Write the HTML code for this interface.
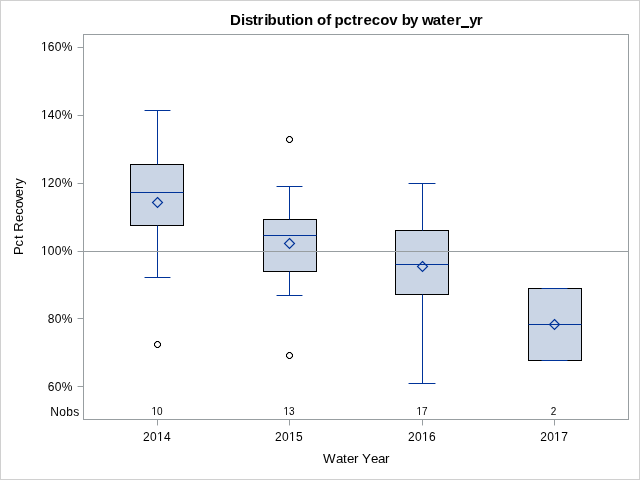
<!DOCTYPE html>
<html><head><meta charset="utf-8">
<style>
html,body{margin:0;padding:0;background:#fff;width:640px;height:480px;overflow:hidden}
svg{display:block;will-change:transform}
text{font-family:"Liberation Sans",sans-serif;fill:#000}
</style></head><body>
<svg width="640" height="480" viewBox="0 0 640 480">
<rect x="0" y="0" width="640" height="480" fill="#fff"/>
<g shape-rendering="crispEdges">
<path d="M0 0h640v480h-640z M1 1v478h638v-478z" fill="#d0d0d0" fill-rule="evenodd"/>
<rect x="83" y="34" width="546" height="1" fill="#989ea1"/>
<rect x="83" y="419" width="546" height="1" fill="#989ea1"/>
<rect x="83" y="34" width="1" height="386" fill="#989ea1"/>
<rect x="628" y="34" width="1" height="386" fill="#989ea1"/>
<rect x="78" y="47" width="5" height="1" fill="#989ea1"/>
<rect x="77" y="47" width="1" height="1" fill="#989ea1" fill-opacity="0.45"/>
<rect x="78" y="115" width="5" height="1" fill="#989ea1"/>
<rect x="77" y="115" width="1" height="1" fill="#989ea1" fill-opacity="0.45"/>
<rect x="78" y="183" width="5" height="1" fill="#989ea1"/>
<rect x="77" y="183" width="1" height="1" fill="#989ea1" fill-opacity="0.45"/>
<rect x="78" y="251" width="5" height="1" fill="#989ea1"/>
<rect x="77" y="251" width="1" height="1" fill="#989ea1" fill-opacity="0.45"/>
<rect x="78" y="318" width="5" height="1" fill="#989ea1"/>
<rect x="77" y="318" width="1" height="1" fill="#989ea1" fill-opacity="0.45"/>
<rect x="78" y="386" width="5" height="1" fill="#989ea1"/>
<rect x="77" y="386" width="1" height="1" fill="#989ea1" fill-opacity="0.45"/>
<rect x="157" y="420" width="1" height="5" fill="#989ea1"/>
<rect x="157" y="425" width="1" height="1" fill="#989ea1" fill-opacity="0.45"/>
<rect x="289" y="420" width="1" height="5" fill="#989ea1"/>
<rect x="289" y="425" width="1" height="1" fill="#989ea1" fill-opacity="0.45"/>
<rect x="422" y="420" width="1" height="5" fill="#989ea1"/>
<rect x="422" y="425" width="1" height="1" fill="#989ea1" fill-opacity="0.45"/>
<rect x="554" y="420" width="1" height="5" fill="#989ea1"/>
<rect x="554" y="425" width="1" height="1" fill="#989ea1" fill-opacity="0.45"/>
<rect x="157" y="110" width="1" height="54" fill="#003399"/>
<rect x="157" y="226" width="1" height="52" fill="#003399"/>
<rect x="130" y="164" width="54" height="62" fill="#000"/>
<rect x="131" y="165" width="52" height="60" fill="#cad5e5"/>
<rect x="145" y="110" width="25" height="1" fill="#003399"/>
<rect x="144" y="110" width="1" height="1" fill="#003399" fill-opacity="0.45"/>
<rect x="170" y="110" width="1" height="1" fill="#003399" fill-opacity="0.45"/>
<rect x="145" y="277" width="25" height="1" fill="#003399"/>
<rect x="144" y="277" width="1" height="1" fill="#003399" fill-opacity="0.45"/>
<rect x="170" y="277" width="1" height="1" fill="#003399" fill-opacity="0.45"/>
<rect x="131" y="192" width="52" height="1" fill="#003399"/>
<rect x="130" y="192" width="1" height="1" fill="#003399" fill-opacity="0.45"/>
<rect x="183" y="192" width="1" height="1" fill="#003399" fill-opacity="0.45"/>
<rect x="157" y="164" width="1" height="1" fill="#003399" fill-opacity="0.45"/>
<rect x="157" y="225" width="1" height="1" fill="#003399" fill-opacity="0.45"/>
<rect x="289" y="186" width="1" height="33" fill="#003399"/>
<rect x="289" y="272" width="1" height="24" fill="#003399"/>
<rect x="263" y="219" width="54" height="53" fill="#000"/>
<rect x="264" y="220" width="52" height="51" fill="#cad5e5"/>
<rect x="277" y="186" width="25" height="1" fill="#003399"/>
<rect x="276" y="186" width="1" height="1" fill="#003399" fill-opacity="0.45"/>
<rect x="302" y="186" width="1" height="1" fill="#003399" fill-opacity="0.45"/>
<rect x="277" y="295" width="25" height="1" fill="#003399"/>
<rect x="276" y="295" width="1" height="1" fill="#003399" fill-opacity="0.45"/>
<rect x="302" y="295" width="1" height="1" fill="#003399" fill-opacity="0.45"/>
<rect x="264" y="235" width="52" height="1" fill="#003399"/>
<rect x="263" y="235" width="1" height="1" fill="#003399" fill-opacity="0.45"/>
<rect x="316" y="235" width="1" height="1" fill="#003399" fill-opacity="0.45"/>
<rect x="289" y="219" width="1" height="1" fill="#003399" fill-opacity="0.45"/>
<rect x="289" y="271" width="1" height="1" fill="#003399" fill-opacity="0.45"/>
<rect x="422" y="183" width="1" height="47" fill="#003399"/>
<rect x="422" y="295" width="1" height="89" fill="#003399"/>
<rect x="395" y="230" width="54" height="65" fill="#000"/>
<rect x="396" y="231" width="52" height="63" fill="#cad5e5"/>
<rect x="409" y="183" width="26" height="1" fill="#003399"/>
<rect x="408" y="183" width="1" height="1" fill="#003399" fill-opacity="0.45"/>
<rect x="435" y="183" width="1" height="1" fill="#003399" fill-opacity="0.45"/>
<rect x="409" y="383" width="26" height="1" fill="#003399"/>
<rect x="408" y="383" width="1" height="1" fill="#003399" fill-opacity="0.45"/>
<rect x="435" y="383" width="1" height="1" fill="#003399" fill-opacity="0.45"/>
<rect x="396" y="264" width="52" height="1" fill="#003399"/>
<rect x="395" y="264" width="1" height="1" fill="#003399" fill-opacity="0.45"/>
<rect x="448" y="264" width="1" height="1" fill="#003399" fill-opacity="0.45"/>
<rect x="422" y="230" width="1" height="1" fill="#003399" fill-opacity="0.45"/>
<rect x="422" y="294" width="1" height="1" fill="#003399" fill-opacity="0.45"/>
<rect x="528" y="288" width="54" height="73" fill="#000"/>
<rect x="529" y="289" width="52" height="71" fill="#cad5e5"/>
<rect x="542" y="288" width="25" height="1" fill="#003399"/>
<rect x="541" y="288" width="1" height="1" fill="#003399" fill-opacity="0.45"/>
<rect x="567" y="288" width="1" height="1" fill="#003399" fill-opacity="0.45"/>
<rect x="542" y="360" width="25" height="1" fill="#003399"/>
<rect x="541" y="360" width="1" height="1" fill="#003399" fill-opacity="0.45"/>
<rect x="567" y="360" width="1" height="1" fill="#003399" fill-opacity="0.45"/>
<rect x="529" y="324" width="52" height="1" fill="#003399"/>
<rect x="528" y="324" width="1" height="1" fill="#003399" fill-opacity="0.45"/>
<rect x="581" y="324" width="1" height="1" fill="#003399" fill-opacity="0.45"/>
<rect x="84" y="251" width="544" height="1" fill="#989ea1"/>
<path d="M154 343h1v1h-1zM154 344h1v1h-1zM154 345h1v1h-1zM155 342h1v1h-1zM155 346h1v1h-1zM156 341h1v1h-1zM156 347h1v1h-1zM157 341h1v1h-1zM157 347h1v1h-1zM158 341h1v1h-1zM158 347h1v1h-1zM159 342h1v1h-1zM159 346h1v1h-1zM160 343h1v1h-1zM160 344h1v1h-1zM160 345h1v1h-1zM286 138h1v1h-1zM286 139h1v1h-1zM286 140h1v1h-1zM287 137h1v1h-1zM287 141h1v1h-1zM288 136h1v1h-1zM288 142h1v1h-1zM289 136h1v1h-1zM289 142h1v1h-1zM290 136h1v1h-1zM290 142h1v1h-1zM291 137h1v1h-1zM291 141h1v1h-1zM292 138h1v1h-1zM292 139h1v1h-1zM292 140h1v1h-1zM286 354h1v1h-1zM286 355h1v1h-1zM286 356h1v1h-1zM287 353h1v1h-1zM287 357h1v1h-1zM288 352h1v1h-1zM288 358h1v1h-1zM289 352h1v1h-1zM289 358h1v1h-1zM290 352h1v1h-1zM290 358h1v1h-1zM291 353h1v1h-1zM291 357h1v1h-1zM292 354h1v1h-1zM292 355h1v1h-1zM292 356h1v1h-1z" fill="#000"/>
<path d="M156 342h1v1h-1z M155 343h1v1h-1z M156 346h1v1h-1z M155 345h1v1h-1z M158 342h1v1h-1z M159 343h1v1h-1z M158 346h1v1h-1z M159 345h1v1h-1z M288 137h1v1h-1z M287 138h1v1h-1z M288 141h1v1h-1z M287 140h1v1h-1z M290 137h1v1h-1z M291 138h1v1h-1z M290 141h1v1h-1z M291 140h1v1h-1z M288 353h1v1h-1z M287 354h1v1h-1z M288 357h1v1h-1z M287 356h1v1h-1z M290 353h1v1h-1z M291 354h1v1h-1z M290 357h1v1h-1z M291 356h1v1h-1z " fill="#000" fill-opacity="0.3"/>
<path d="M155 341h1v1h-1z M154 342h1v1h-1z M155 347h1v1h-1z M154 346h1v1h-1z M159 341h1v1h-1z M160 342h1v1h-1z M159 347h1v1h-1z M160 346h1v1h-1z M287 136h1v1h-1z M286 137h1v1h-1z M287 142h1v1h-1z M286 141h1v1h-1z M291 136h1v1h-1z M292 137h1v1h-1z M291 142h1v1h-1z M292 141h1v1h-1z M287 352h1v1h-1z M286 353h1v1h-1z M287 358h1v1h-1z M286 357h1v1h-1z M291 352h1v1h-1z M292 353h1v1h-1z M291 358h1v1h-1z M292 357h1v1h-1z " fill="#000" fill-opacity="0.2"/>
</g>
<path d="M157.5 197.5l5 5l-5 5l-5 -5zM289.5 238.5l5 5l-5 5l-5 -5zM422.5 261.5l5 5l-5 5l-5 -5zM554.5 319.5l5 5l-5 5l-5 -5z" fill="none" stroke="#003399" stroke-width="1.15"/>

<text x="230.00 241.12 245.12 252.85 257.50 264.22 267.48 276.75 285.85 290.92 294.87 303.89 308.89 316.92 326.21 331.21 334.53 343.51 352.10 357.10 363.54 371.66 380.32 389.13 394.13 401.83 410.01 415.01 421.97 432.76 440.95 446.44 455.15 460.94 469.31 476.65" y="25" font-size="15" font-weight="bold">Distribution of pctrecov by water_yr</text>
<text x="40.95 47.76 54.76 61.76" y="51" font-size="12">160%</text>
<text x="40.95 47.76 54.76 61.76" y="119" font-size="12">140%</text>
<text x="40.95 47.76 54.76 61.76" y="187" font-size="12">120%</text>
<text x="40.95 47.76 54.76 61.76" y="255" font-size="12">100%</text>
<text x="47.76 54.76 61.76" y="323" font-size="12">80%</text>
<text x="47.76 54.76 61.76" y="391" font-size="12">60%</text>
<text x="50.20 59.20 66.20 73.20" y="416" font-size="12">Nobs</text>
<text x="151.54 157.11" y="415" font-size="10">10</text>
<text x="283.55 289.11" y="415" font-size="10">13</text>
<text x="416.55 422.11" y="415" font-size="10">17</text>
<text x="550.72" y="415" font-size="10">2</text>
<text x="142.94 149.94 156.95 163.94" y="441" font-size="12">2014</text>
<text x="275.11 282.11 288.95 296.11" y="441" font-size="12">2015</text>
<text x="408.02 415.02 421.95 429.02" y="441" font-size="12">2016</text>
<text x="540.16 547.16 553.95 561.16" y="441" font-size="12">2017</text>
<text x="323.00 336.00 343.00 347.00 354.00 358.00 362.00 371.00 378.00 385.00" y="463" font-size="13.33">Water Year</text>
<text x="-255.03 -246.45 -239.06 -235.06 -231.63 -221.90 -214.80 -208.21 -201.75 -196.25 -189.04 -184.70" y="23" font-size="13" transform="rotate(-90)">Pct Recovery</text>
<rect x="461" y="26" width="8" height="2" fill="#000" shape-rendering="crispEdges"/>
<g shape-rendering="crispEdges"><rect x="41" y="50" width="1" height="1" fill="#fff" fill-opacity="1.00"/><rect x="42" y="50" width="1" height="1" fill="#fff" fill-opacity="1.00"/><rect x="43" y="50" width="1" height="1" fill="#fff" fill-opacity="1.00"/><rect x="44" y="50" width="1" height="1" fill="#fff" fill-opacity="0.02"/><rect x="45" y="50" width="1" height="1" fill="#fff" fill-opacity="0.92"/><rect x="46" y="50" width="1" height="1" fill="#fff" fill-opacity="1.00"/><rect x="47" y="50" width="1" height="1" fill="#fff" fill-opacity="1.00"/><rect x="41" y="118" width="1" height="1" fill="#fff" fill-opacity="1.00"/><rect x="42" y="118" width="1" height="1" fill="#fff" fill-opacity="1.00"/><rect x="43" y="118" width="1" height="1" fill="#fff" fill-opacity="1.00"/><rect x="44" y="118" width="1" height="1" fill="#fff" fill-opacity="0.02"/><rect x="45" y="118" width="1" height="1" fill="#fff" fill-opacity="0.92"/><rect x="46" y="118" width="1" height="1" fill="#fff" fill-opacity="1.00"/><rect x="47" y="118" width="1" height="1" fill="#fff" fill-opacity="1.00"/><rect x="41" y="186" width="1" height="1" fill="#fff" fill-opacity="1.00"/><rect x="42" y="186" width="1" height="1" fill="#fff" fill-opacity="1.00"/><rect x="43" y="186" width="1" height="1" fill="#fff" fill-opacity="1.00"/><rect x="44" y="186" width="1" height="1" fill="#fff" fill-opacity="0.02"/><rect x="45" y="186" width="1" height="1" fill="#fff" fill-opacity="0.92"/><rect x="46" y="186" width="1" height="1" fill="#fff" fill-opacity="1.00"/><rect x="47" y="186" width="1" height="1" fill="#fff" fill-opacity="1.00"/><rect x="41" y="254" width="1" height="1" fill="#fff" fill-opacity="1.00"/><rect x="42" y="254" width="1" height="1" fill="#fff" fill-opacity="1.00"/><rect x="43" y="254" width="1" height="1" fill="#fff" fill-opacity="1.00"/><rect x="44" y="254" width="1" height="1" fill="#fff" fill-opacity="0.02"/><rect x="45" y="254" width="1" height="1" fill="#fff" fill-opacity="0.92"/><rect x="46" y="254" width="1" height="1" fill="#fff" fill-opacity="1.00"/><rect x="47" y="254" width="1" height="1" fill="#fff" fill-opacity="1.00"/><rect x="152" y="414" width="1" height="1" fill="#fff" fill-opacity="1.00"/><rect x="153" y="414" width="1" height="1" fill="#fff" fill-opacity="1.00"/><rect x="154" y="414" width="1" height="1" fill="#fff" fill-opacity="0.10"/><rect x="155" y="414" width="1" height="1" fill="#fff" fill-opacity="1.00"/><rect x="156" y="414" width="1" height="1" fill="#fff" fill-opacity="1.00"/><rect x="284" y="414" width="1" height="1" fill="#fff" fill-opacity="1.00"/><rect x="285" y="414" width="1" height="1" fill="#fff" fill-opacity="1.00"/><rect x="286" y="414" width="1" height="1" fill="#fff" fill-opacity="0.10"/><rect x="287" y="414" width="1" height="1" fill="#fff" fill-opacity="1.00"/><rect x="288" y="414" width="1" height="1" fill="#fff" fill-opacity="1.00"/><rect x="417" y="414" width="1" height="1" fill="#fff" fill-opacity="1.00"/><rect x="418" y="414" width="1" height="1" fill="#fff" fill-opacity="1.00"/><rect x="419" y="414" width="1" height="1" fill="#fff" fill-opacity="0.10"/><rect x="420" y="414" width="1" height="1" fill="#fff" fill-opacity="1.00"/><rect x="421" y="414" width="1" height="1" fill="#fff" fill-opacity="1.00"/><rect x="157" y="440" width="1" height="1" fill="#fff" fill-opacity="1.00"/><rect x="158" y="440" width="1" height="1" fill="#fff" fill-opacity="1.00"/><rect x="159" y="440" width="1" height="1" fill="#fff" fill-opacity="1.00"/><rect x="160" y="440" width="1" height="1" fill="#fff" fill-opacity="0.02"/><rect x="161" y="440" width="1" height="1" fill="#fff" fill-opacity="0.92"/><rect x="162" y="440" width="1" height="1" fill="#fff" fill-opacity="1.00"/><rect x="163" y="440" width="1" height="1" fill="#fff" fill-opacity="1.00"/><rect x="289" y="440" width="1" height="1" fill="#fff" fill-opacity="1.00"/><rect x="290" y="440" width="1" height="1" fill="#fff" fill-opacity="1.00"/><rect x="291" y="440" width="1" height="1" fill="#fff" fill-opacity="1.00"/><rect x="292" y="440" width="1" height="1" fill="#fff" fill-opacity="0.02"/><rect x="293" y="440" width="1" height="1" fill="#fff" fill-opacity="0.92"/><rect x="294" y="440" width="1" height="1" fill="#fff" fill-opacity="1.00"/><rect x="295" y="440" width="1" height="1" fill="#fff" fill-opacity="1.00"/><rect x="422" y="440" width="1" height="1" fill="#fff" fill-opacity="1.00"/><rect x="423" y="440" width="1" height="1" fill="#fff" fill-opacity="1.00"/><rect x="424" y="440" width="1" height="1" fill="#fff" fill-opacity="1.00"/><rect x="425" y="440" width="1" height="1" fill="#fff" fill-opacity="0.02"/><rect x="426" y="440" width="1" height="1" fill="#fff" fill-opacity="0.92"/><rect x="427" y="440" width="1" height="1" fill="#fff" fill-opacity="1.00"/><rect x="428" y="440" width="1" height="1" fill="#fff" fill-opacity="1.00"/><rect x="554" y="440" width="1" height="1" fill="#fff" fill-opacity="1.00"/><rect x="555" y="440" width="1" height="1" fill="#fff" fill-opacity="1.00"/><rect x="556" y="440" width="1" height="1" fill="#fff" fill-opacity="1.00"/><rect x="557" y="440" width="1" height="1" fill="#fff" fill-opacity="0.02"/><rect x="558" y="440" width="1" height="1" fill="#fff" fill-opacity="0.92"/><rect x="559" y="440" width="1" height="1" fill="#fff" fill-opacity="1.00"/><rect x="560" y="440" width="1" height="1" fill="#fff" fill-opacity="1.00"/></g>
</svg>
</body></html>
